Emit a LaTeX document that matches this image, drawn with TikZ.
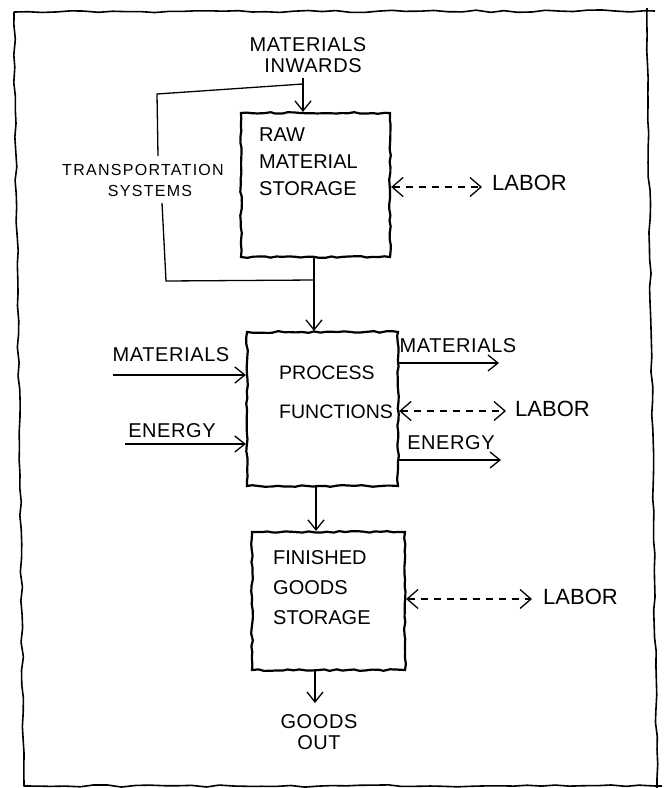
\documentclass[tikz,border=0pt]{standalone}
\usepackage{fontspec}
\setmainfont{Liberation Sans}
\usetikzlibrary{arrows.meta,decorations.pathmorphing}

\begin{document}
\begin{tikzpicture}[x=1pt,y=-1pt,
  lbl/.style={font=\fontsize{20}{21}\selectfont\addfontfeature{LetterSpace=3}, inner sep=0pt, align=center},
  boxtext/.style={inner sep=0pt, align=left, anchor=north west},
  storebox/.style={draw, line width=2.2pt, inner sep=0pt,
    decorate, decoration={random steps, segment length=6pt, amplitude=0.9pt}},
  wire/.style={line width=1.3pt},
  arr/.style={wire, -{Straight Barb[length=10pt,width=16pt,line width=1.3pt]}},
  labor/.style={wire, dash pattern=on 7pt off 6pt,
    {Straight Barb[length=11pt,width=19pt,line width=1.3pt]}-{Straight Barb[length=11pt,width=19pt,line width=1.3pt]}},
  frame/.style={line width=1.6pt, line join=round,
    decorate, decoration={random steps, segment length=14pt, amplitude=1.1pt}}
]
\pgfmathsetseed{7}
\useasboundingbox (0,0) rectangle (665,788);
\fill[white] (0,0) rectangle (665,788);

% outer frame
\draw[frame] (14,12) -- (655,11);
\draw[frame] (647,8) -- (657,788);
\draw[frame] (14,12) -- (24,786) -- (662,786);

% storage and process blocks
\node[storebox, minimum width=149pt, minimum height=144pt] (raw)  at (315.5,185) {};
\node[storebox, minimum width=151pt, minimum height=154pt] (proc) at (322.5,409) {};
\node[storebox, minimum width=153pt, minimum height=138pt] (fin)  at (328.5,601) {};

\node[boxtext, font=\fontsize{20}{27}\selectfont] (rawtxt) at (259,128) {RAW\\MATERIAL\\STORAGE};
\node[boxtext, font=\fontsize{19.5}{39}\selectfont] (proctxt) at (279,366) {PROCESS\\FUNCTIONS};
\node[boxtext, font=\fontsize{20}{30}\selectfont] (fintxt) at (273,550) {FINISHED\\GOODS\\STORAGE};

% text labels
\node[lbl] (min) at (308,55) {MATERIALS\\\hspace*{10pt}INWARDS};
\node[lbl, font=\fontsize{16}{21}\selectfont\addfontfeature{LetterSpace=8}] (tsys) at (143,180) {TRANSPORTATION\\\hspace*{14pt}SYSTEMS};
\node[lbl] (matin)  at (171,355) {MATERIALS};
\node[lbl] (enin)   at (172,431) {ENERGY};
\node[lbl] (matout) at (458,346) {MATERIALS};
\node[lbl] (enout)  at (451,443) {ENERGY};
\node[lbl, font=\fontsize{22}{22}\selectfont, anchor=west] (lab1) at (492,183) {LABOR};
\node[lbl, font=\fontsize{22}{22}\selectfont, anchor=west] (lab2) at (515,409) {LABOR};
\node[lbl, font=\fontsize{22}{22}\selectfont, anchor=west] (lab3) at (543,597) {LABOR};
\node[lbl] (gout) at (319,732) {GOODS\\OUT};

% end points of the flows
\coordinate (inTop) at (303,78);
\coordinate (loopJoin) at (303,84);
\coordinate (loopNW) at (157,94);
\coordinate (loopGapA) at (158,156);
\coordinate (loopGapB) at (162,203);
\coordinate (loopSW) at (166,281);
\coordinate (loopSE) at (314,280);
\coordinate (mL) at (113,375);
\coordinate (eL) at (125,444);
\coordinate (mR) at (499,363);
\coordinate (eR) at (501,460);
\coordinate (l1) at (482,187);
\coordinate (l2) at (506,411);
\coordinate (l3) at (532,599);

% materials inwards
\draw[arr] (inTop) -- (inTop |- raw.north);

% transportation loop around raw material storage
\draw[wire] (loopJoin) -- (loopNW) -- (loopGapA);
\draw[wire] (loopGapB) -- (loopSW) -- (loopSE);

% main flow
\draw[arr] (raw.south -| loopSE) -- (loopSE |- proc.north);
\draw[arr] (proc.south -| 316,0) -- (316,0 |- fin.north);
\draw[arr] (fin.south -| 315,0) -- (315,703);

% process inputs and outputs
\draw[arr] (mL) -- (mL -| proc.west);
\draw[arr] (eL) -- (eL -| proc.west);
\draw[arr] (mR -| proc.east) -- (mR);
\draw[arr] (eR -| proc.east) -- (eR);

% labor exchanges
\draw[labor] (l1 -| raw.east) -- (l1);
\draw[labor] (l2 -| proc.east) -- (l2);
\draw[labor] (l3 -| fin.east) -- (l3);
\end{tikzpicture}
\end{document}
